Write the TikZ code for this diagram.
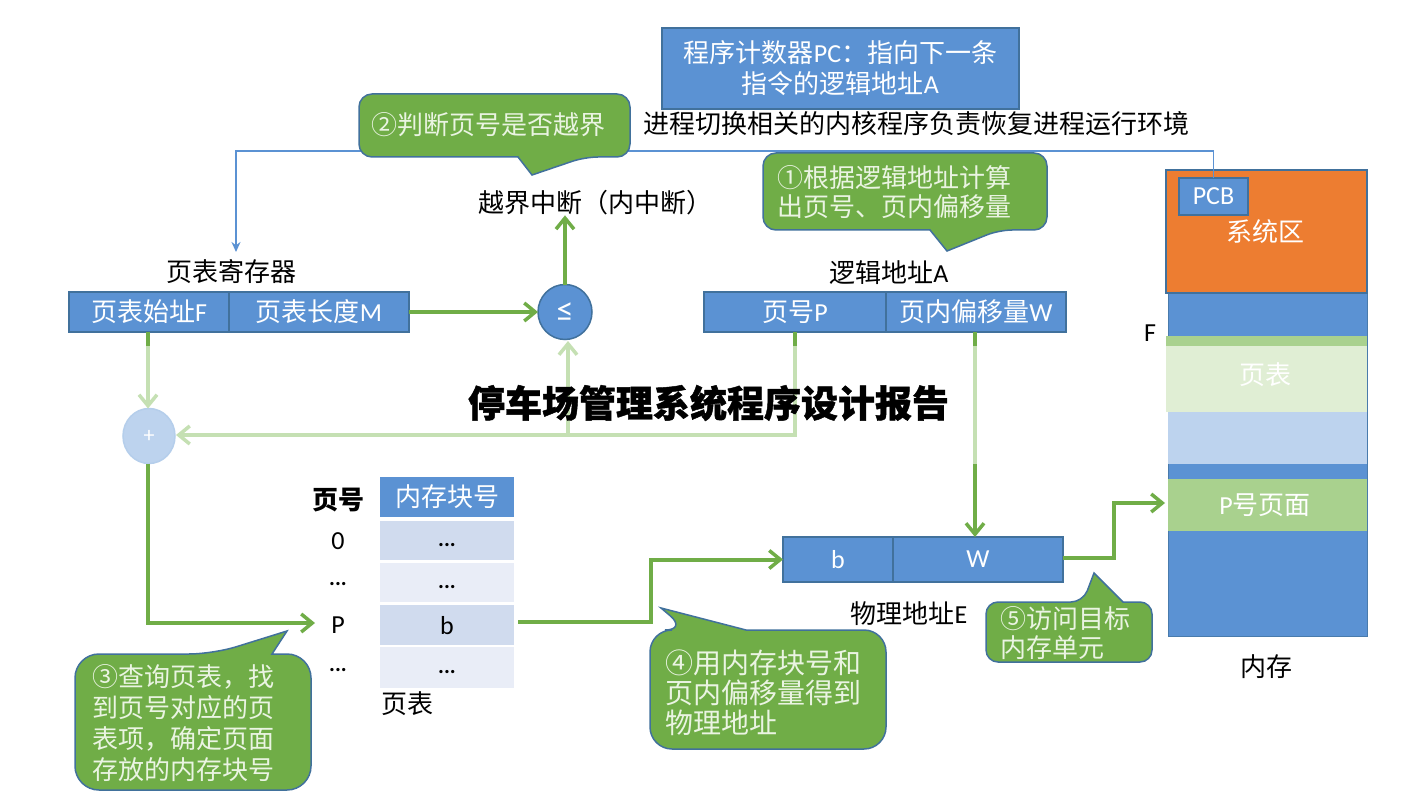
\documentclass[tikz,border=0pt]{standalone}
\usepackage{fontspec}
\setmainfont{Carlito}
\newfontfamily\cjk{Noto Sans CJK SC}
\newfontfamily\ttl[BoldFeatures={FakeBold=1.2}]{Noto Sans CJK SC}
\usetikzlibrary{arrows.meta,shapes.geometric}
\definecolor{bl}{HTML}{5B92D3}
\definecolor{bd}{HTML}{41719C}
\definecolor{gr}{HTML}{70AD47}
\definecolor{lg}{HTML}{C5E0B3}
\definecolor{ltx}{HTML}{EAF4E2}
\definecolor{orng}{HTML}{ED7D31}
\definecolor{rowa}{HTML}{D0DBEE}
\definecolor{rowb}{HTML}{E9EDF7}
\definecolor{pgreen}{HTML}{A9D18E}
\definecolor{ptgreen}{HTML}{E0EED4}
\definecolor{lblue}{HTML}{BDD3EE}
\tikzset{
  x=1pt,y=-1pt,
  every node/.style={inner sep=0pt,outer sep=0pt,font=\fontsize{26}{26}\selectfont\cjk},
  cellbox/.style={draw=bd,line width=1.5pt,fill=bl,text=white,minimum height=40pt,anchor=center},
  callout/.style={draw=bd,line width=1.5pt,fill=gr},
  calltext/.style={text=ltx,align=left,anchor=west},
  thick arrow/.style={draw=gr,line width=4pt,-{Straight Barb[length=11pt,width=18pt,line width=3.5pt]}},
  thick line/.style={draw=gr,line width=4pt},
  light arrow/.style={draw=lg,line width=4pt,-{Straight Barb[length=11pt,width=18pt,line width=3.5pt]}},
  light line/.style={draw=lg,line width=4pt},
  blue link/.style={draw=bl,line width=1.5pt,-{Stealth[length=10pt,width=9pt]}},
  memband/.style={anchor=north west,inner sep=0pt},
  row/.style={minimum width=134pt,minimum height=40pt,anchor=center,text=black},
  dots/.style={font=\fontsize{22}{22}\selectfont\rmfamily\bfseries},
  latin/.style={font=\fontsize{26}{26}\selectfont\rmfamily},
}
\begin{document}
\begin{tikzpicture}
\useasboundingbox[fill=white] (0,0) rectangle (1415,810);

% memory column
\node[memband,fill=bl,draw=bd!70!bl,line width=1pt,minimum width=199pt,minimum height=343pt] (mem) at (1168,293) {};
\node[memband,fill=pgreen,minimum width=201pt,minimum height=10pt] (band) at (1166,336) {};
\node[memband,fill=ptgreen,minimum width=201pt,minimum height=66pt] (pt) at (1166,346) {};
\node[text=white] (pttext) at (1265,375) {页表};
\node[memband,fill=lblue,minimum width=199pt,minimum height=52pt] (lb) at (1168,412) {};
\node[memband,fill=pgreen,minimum width=199pt,minimum height=52pt] (pp) at (1168,479) {};
\node[text=white] (pptext) at (1265,505) {{\rmfamily P}号页面};
\node[memband,fill=orng,draw=bd,line width=1.5pt,minimum width=201pt,minimum height=123pt] (sys) at (1166,170) {};
\node[text=white] (systext) at (1265,232) {系统区};
\node[cellbox,minimum width=69pt,minimum height=37pt] (pcb) at (1213.5,196.5) {\rmfamily PCB};
\node (F) at (1150,333) {\rmfamily F};
\node (memtext) at (1266,667) {内存};

% blue link
\coordinate (bendR) at (1213.5,151);
\coordinate (bendL) at (236,151);
\coordinate (regtop) at (236,252);
\draw[blue link] (pcb.north) -- (bendR) -- (bendL) -- (regtop);

% top texts
\node[cellbox,minimum width=357pt,minimum height=81pt,align=center] (pc) at (840.5,68.5) {程序计数器{\rmfamily PC}：指向下一条\\[5pt]指令的逻辑地址{\rmfamily A}};
\node (switch) at (916.5,124) {进程切换相关的内核程序负责恢复进程运行环境};

% callout 2
\draw[callout,rounded corners=13pt] (359,94) -- (630,94) -- (630,157) -- (585,157) [sharp corners] -- (532,175) -- (518,157) [rounded corners=13pt] -- (359,157) -- cycle;
\node[calltext] (c2) at (371,125) {②判断页号是否越界};
% callout 1
\draw[callout,rounded corners=13pt] (763,153) -- (1047,153) -- (1047,230) -- (999,230) [sharp corners] -- (947,251) -- (930,230) [rounded corners=13pt] -- (763,230) -- cycle;
\node[calltext] (c1) at (777,192) {①根据逻辑地址计算\\[3pt]出页号、页内偏移量};

\node (over) at (595,203) {越界中断（内中断）};

% register
\node (regtitle) at (231,272) {页表寄存器};
\node[cellbox,minimum width=160pt] (rF) at (149,312) {页表始址{\rmfamily F}};
\node[cellbox,minimum width=180pt] (rM) at (319,312) {页表长度{\rmfamily M}};
% logical addr
\node (logtitle) at (889,273) {逻辑地址{\rmfamily A}};
\node[cellbox,minimum width=182pt] (lP) at (795,312) {页号{\rmfamily P}};
\node[cellbox,minimum width=180pt] (lW) at (976,312) {页内偏移量{\rmfamily W}};
% comparators
\node[ellipse,draw=bd,line width=1.5pt,fill=bl,text=white,minimum width=54pt,minimum height=55pt,font=\fontsize{34}{34}\selectfont\rmfamily] (cmp) at (565,312) {≤};
\node[ellipse,draw=bl!45,line width=1.5pt,fill=lblue,text=white,minimum width=52pt,minimum height=55pt,font=\fontsize{22}{22}\selectfont\rmfamily] (add) at (149,436) {+};

% connectors
\draw[thick arrow] (rM.east) -- (cmp.west);
\draw[thick arrow] (cmp.north) -- (over.south -| cmp.north);
\coordinate (Pdown) at (795,435);
\coordinate (Fstub) at (148,346);
\coordinate (Pstub) at (795,346);
\coordinate (Wstub) at (975,346);
\coordinate (Wmid) at (975,464);
\coordinate (Fbot) at (148,332);
\coordinate (Wbot) at (975,332);
\coordinate (Pbot) at (795,332);
\coordinate (jn) at (568,435);
\coordinate (cmpb) at (568,341);
\coordinate (addE) at (176,435);
\draw[light arrow] (Fstub) -- (add.north -| Fstub);
\draw[light arrow] (Pstub) -- (Pdown) -- (addE);
\draw[light arrow] (jn) -- (cmpb);
\draw[thick line] (Fbot) -- (Fstub);
\draw[thick line] (Pbot) -- (Pstub);
\draw[thick line] (Wbot) -- (Wstub);
\draw[light line] (Wstub) -- (Wmid);

% table
\node[font=\fontsize{26}{26}\selectfont\cjk\bfseries] (th) at (338,500) {页号};
\node[row,fill=bl,text=white] (hd) at (447,497) {内存块号};
\node[row,fill=rowa,minimum height=39pt] (r0) at (447,540.5) {};
\node[row,fill=rowb,minimum height=39pt] (r1) at (447,582.5) {};
\node[row,fill=rowa] (r2) at (447,625) {};
\node[row,fill=rowb,minimum height=41pt] (r3) at (447,667.5) {};
\node[dots] (d0) at (447,545) {...};
\node[dots] (d1) at (447,587) {...};
\node[latin] (b1) at (447,626) {b};
\node[dots] (d3) at (447,672) {...};
\node[latin] (n0) at (338,541) {0};
\node[dots] (n1) at (338,584) {...};
\node[latin] (nP) at (338,625) {P};
\node[dots] (n3) at (338,670) {...};
\node[anchor=west] (pttitle) at (381,704) {页表};

% lower connectors
\coordinate (cn1) at (148,623);
\coordinate (cn2) at (315,623);
\draw[thick arrow] (add.south -| cn1) -- (cn1) -- (cn2);
\coordinate (rowout) at (518,622);
\coordinate (rowm1) at (651,622);
\coordinate (rowm2) at (651,559.5);

% physical address
\node[cellbox,minimum width=110pt,minimum height=45pt] (pb) at (838,559.5) {\rmfamily b};
\node[cellbox,minimum width=170pt,minimum height=45pt] (pW) at (978,559.5) {\rmfamily W};
\node (phy) at (909,614) {物理地址{\rmfamily E}};
\draw[thick arrow] (rowout) -- (rowm1) -- (rowm2) -- (pb.west);
\draw[thick arrow] (Wmid) -- (pW.north -| Wmid);
\coordinate (o1) at (1114,558);
\coordinate (o2) at (1114,503);
\coordinate (o3) at (1165,503);
\draw[thick arrow] (pW.east |- o1) -- (o1) -- (o2) -- (o3);

% callout 3
\draw[callout,rounded corners=24pt] (75,654) -- (213,654) [sharp corners] -- (287,631) -- (272,654) [rounded corners=24pt] -- (311,654) -- (311,790) -- (75,790) -- cycle;
\node[calltext] (c3) at (92,723) {③查询页表，找\\[5pt]到页号对应的页\\[5pt]表项，确定页面\\[5pt]存放的内存块号};
% callout 4
\draw[callout,rounded corners=22pt] (650,630) -- (687,630) [sharp corners] -- (661,608) -- (746,630) [rounded corners=22pt] -- (886,630) -- (886,749) -- (650,749) -- cycle;
\node[calltext,font=\fontsize{28}{28}\selectfont\cjk] (c4) at (665,693) {④用内存块号和\\[2pt]页内偏移量得到\\[2pt]物理地址};
% callout 5
\draw[callout,rounded corners=12pt] (986,602) -- (1083,602) [sharp corners] -- (1094,573) -- (1123,602) [rounded corners=12pt] -- (1152,602) -- (1152,662) -- (986,662) -- cycle;
\node[calltext] (c5) at (1000,633) {⑤访问目标\\[3pt]内存单元};

% title
\node[font=\fontsize{37}{37}\selectfont\ttl\bfseries] (title) at (708.5,403) {停车场管理系统程序设计报告};
\end{tikzpicture}
\end{document}
